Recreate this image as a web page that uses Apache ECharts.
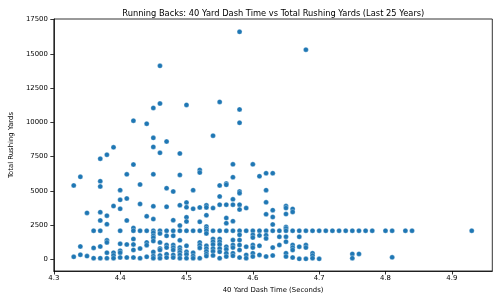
<!DOCTYPE html>
<html>
<head>
<meta charset="utf-8">
<script src="https://cdn.jsdelivr.net/npm/echarts@6/dist/echarts.min.js"></script>
<style>html,body{margin:0;padding:0;background:#fff}#c{width:500px;height:300px}</style>
</head>
<body>
<div id="c"></div>
<script>
// 40-yard dash times (seconds) and total rushing yards, grouped by dash time
const dashTimes = [4.33,4.34,4.35,4.36,4.37,4.38,4.39,4.40,4.41,4.42,4.43,4.44,4.45,4.46,4.47,4.48,4.49,4.50,4.51,4.52,4.53,4.54,4.55,4.56,4.57,4.58,4.59,4.60,4.61,4.62,4.63,4.64,4.65,4.66,4.67,4.68,4.69,4.70,4.71,4.72,4.73,4.74,4.75,4.76,4.77,4.78,4.80,4.81,4.83,4.84,4.93];
const rushingYards = [
  [5400,200],
  [6030,950,350],
  [3400,250],
  [2100,850,100],
  [7350,5710,5330,3450,2850,2100,950,100],
  [7640,3200,2580,1400,1250,500,100],
  [8180,3900,500,300,100],
  [5060,4350,3700,2100,1150,650,500,150],
  [6210,4450,2850,1100,150],
  [10120,6920,2300,2100,1500,1100,700,150],
  [5470,4050,2100,800,100],
  [9900,3150,2100,1250,1050,200],
  [11050,8870,8210,6210,3880,2950,2100,1950,1730,1590,1350,550,250,100],
  [14120,11370,7780,2100,1900,1250,800,700,300,100],
  [8600,5200,3850,2100,1730,1060,870,390,140],
  [4960,2870,2100,1730,1060,870,700,340,140],
  [7730,6170,3960,2480,2100,1400,870,700,530,340,100],
  [11270,4150,3810,3080,2780,2100,1000,560,380,100],
  [5060,3700,2100,500,260,100],
  [6530,6340,3800,2750,2100,1250,1050,850,100],
  [3950,3800,3230,2400,2250,2100,1900,1000,800,600,400,250],
  [9030,3750,2100,1500,1300,1100,800,600,300],
  [11490,5400,4600,4000,2100,1500,1300,1100,800,560,100],
  [5540,5450,4000,3030,2650,2100,940,750,460,220],
  [6940,6000,4390,4000,2800,2100,1420,1060,870,460,270],
  [16600,10940,9970,4960,4840,4000,3640,2100,1800,1420,1060,700,150],
  [3750,2100,940,340,100],
  [6940,2100,1800,1600,1060,870,460,220],
  [6070,2100,1760,1010,340],
  [6290,5060,4170,3300,2100,1780,1540,220],
  [6290,3600,3100,2560,2100,870,290],
  [2100,1660,1060],
  [3900,3760,3320,2380,2270,2100,1660,1300,460,220],
  [3690,3470,2100,1060,870,700,145],
  [2100,1660,940,50],
  [15300,2100,1060,870,50],
  [2100,460,290,100],
  [2100,50],
  [2100],
  [2100],
  [2100],
  [2100],
  [2100,412,100],
  [2100,412],
  [2100],
  [2100],
  [2100],
  [2100,160],
  [2100],
  [2100],
  [2100]
];
const xTicks = [4.3,4.4,4.5,4.6,4.7,4.8,4.9];
const yTicks = [0,2500,5000,7500,10000,12500,15000,17500];

const points = [];
dashTimes.forEach((t, i) => rushingYards[i].forEach(y => points.push([t, y])));

const font = 'DejaVu Sans';
const chart = echarts.init(document.getElementById('c'), null, {renderer: 'canvas'});
chart.setOption({
  animation: false,
  backgroundColor: '#fff',
  title: {
    text: 'Running Backs: 40 Yard Dash Time vs Total Rushing Yards (Last 25 Years)',
    left: 268.3, top: 5, textAlign: 'center',
    textStyle: {fontFamily: font, fontSize: 8.3, fontWeight: 'normal', color: '#000'}
  },
  grid: {left: 44.3, right: 7.7, top: 19, bottom: 29, show: true, borderColor: '#000', borderWidth: 0.8, backgroundColor: 'transparent'},
  xAxis: {
    type: 'value', min: 4.30, max: 4.961,
    name: '40 Yard Dash Time (Seconds)', nameLocation: 'middle', nameGap: 14,
    nameTextStyle: {fontFamily: font, fontSize: 6.9, color: '#000'},
    axisLine: {show: true, onZero: false, lineStyle: {color: '#000', width: 0.8}},
    axisTick: {show: true, length: 3.5, lineStyle: {color: '#000', width: 0.8}, customValues: xTicks},
    axisLabel: {fontFamily: font, fontSize: 6.9, color: '#000', margin: 4, customValues: xTicks, formatter: v => v.toFixed(1)},
    splitLine: {show: false}
  },
  yAxis: {
    type: 'value', min: -835, max: 17535,
    name: 'Total Rushing Yards', nameLocation: 'middle', nameGap: 33, nameRotate: 90,
    nameTextStyle: {fontFamily: font, fontSize: 6.9, color: '#000'},
    axisLine: {show: true, onZero: false, lineStyle: {color: '#000', width: 0.8}},
    axisTick: {show: true, length: 3.5, lineStyle: {color: '#000', width: 0.8}, customValues: yTicks},
    axisLabel: {fontFamily: font, fontSize: 6.9, color: '#000', margin: 6, customValues: yTicks, formatter: v => String(Math.round(v))},
    splitLine: {show: false}
  },
  series: [{
    type: 'scatter',
    data: points,
    symbolSize: 5,
    itemStyle: {color: '#1f77b4', borderColor: '#fff', borderWidth: 0.3, opacity: 1}
  }]
});
</script>
</body>
</html>
